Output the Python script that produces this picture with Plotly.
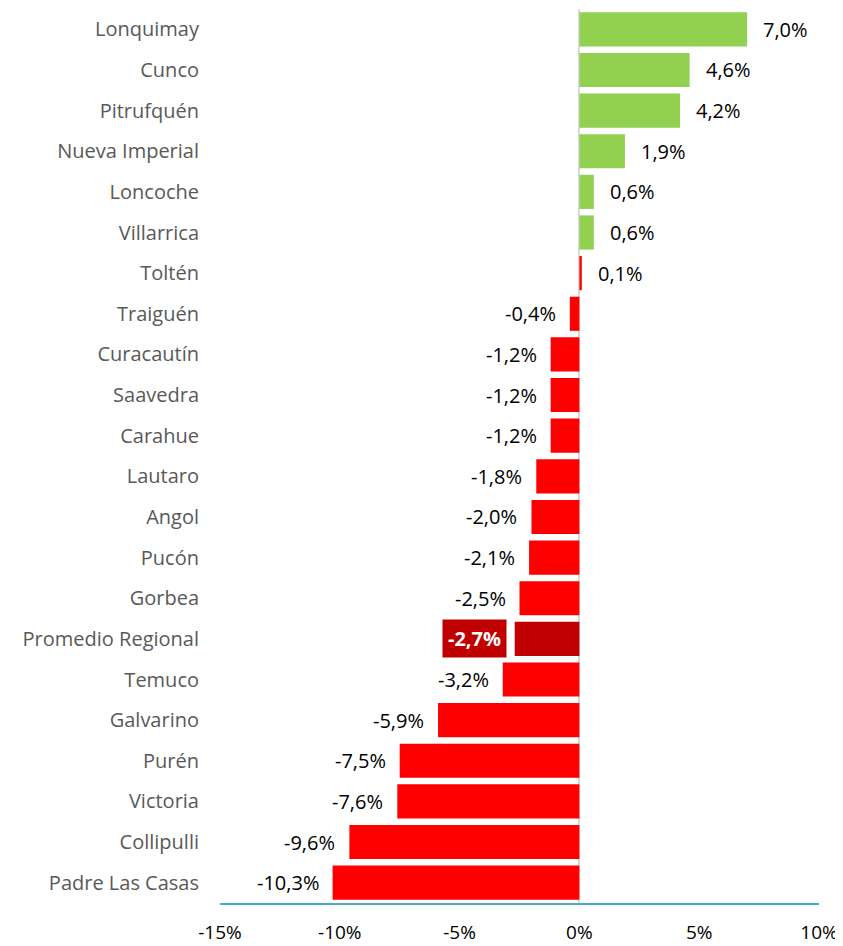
import plotly.graph_objects as go

comunas = ["Lonquimay", "Cunco", "Pitrufquén", "Nueva Imperial", "Loncoche", "Villarrica",
           "Toltén", "Traiguén", "Curacautín", "Saavedra", "Carahue", "Lautaro", "Angol",
           "Pucón", "Gorbea", "Promedio Regional", "Temuco", "Galvarino", "Purén",
           "Victoria", "Collipulli", "Padre Las Casas"]
valores = [7.0, 4.6, 4.2, 1.9, 0.6, 0.6, 0.1, -0.4, -1.2, -1.2, -1.2, -1.8, -2.0,
           -2.1, -2.5, -2.7, -3.2, -5.9, -7.5, -7.6, -9.6, -10.3]
tick_vals = [-15, -10, -5, 0, 5, 10]
tick_text = ["-15%", "-10%", "-5%", "0%", "5%", "10%"]

GREEN = "#92D050"
RED = "#FF0000"
DARK = "#C00000"
FONT = "Open Sans"

colors = []
for c, v in zip(comunas, valores):
    if c == "Promedio Regional":
        colors.append(DARK)
    elif v > 0.1:
        colors.append(GREEN)
    else:
        colors.append(RED)

def fmt(v):
    return f"{v:.1f}".replace(".", ",") + "%"

fig = go.Figure()
fig.add_trace(go.Bar(
    x=valores, y=comunas, orientation="h",
    marker=dict(color=colors, line=dict(width=0)),
    hoverinfo="skip",
))

annotations = []
for c, v in zip(comunas, valores):
    if c == "Promedio Regional":
        annotations.append(dict(
            x=v, y=c, xref="x", yref="y", text="<b>" + fmt(v) + "</b>",
            showarrow=False, xanchor="right", xshift=-8,
            font=dict(color="white", size=20, family=FONT),
            bgcolor=DARK, borderpad=5,
        ))
    else:
        annotations.append(dict(
            x=v, y=c, xref="x", yref="y", text=fmt(v), showarrow=False,
            xanchor="left" if v >= 0 else "right",
            xshift=14 if v >= 0 else -12,
            font=dict(color="#000000", size=20, family=FONT),
        ))

fig.update_layout(
    width=835, height=938,
    margin=dict(l=212, r=24, t=1, b=43),
    paper_bgcolor="white", plot_bgcolor="white",
    bargap=0.16,
    showlegend=False,
    font=dict(family=FONT, size=18, color="#000000"),
    annotations=annotations,
    xaxis=dict(
        range=[-15, 10], tickvals=tick_vals, ticktext=tick_text,
        showgrid=False, zeroline=True, zerolinecolor="#D9D9D9", zerolinewidth=2,
        showline=True, linecolor="#4BACC6", linewidth=2,
        ticks="", ticklabelstandoff=11, automargin=False,
        tickfont=dict(size=19, color="#000000"),
        fixedrange=True,
    ),
    yaxis=dict(
        autorange="reversed", showgrid=False, zeroline=False, showline=False,
        ticks="", ticklabelstandoff=20, automargin=False,
        tickfont=dict(size=20, color="#595959"),
        fixedrange=True,
    ),
)

fig.write_html("out.html")
